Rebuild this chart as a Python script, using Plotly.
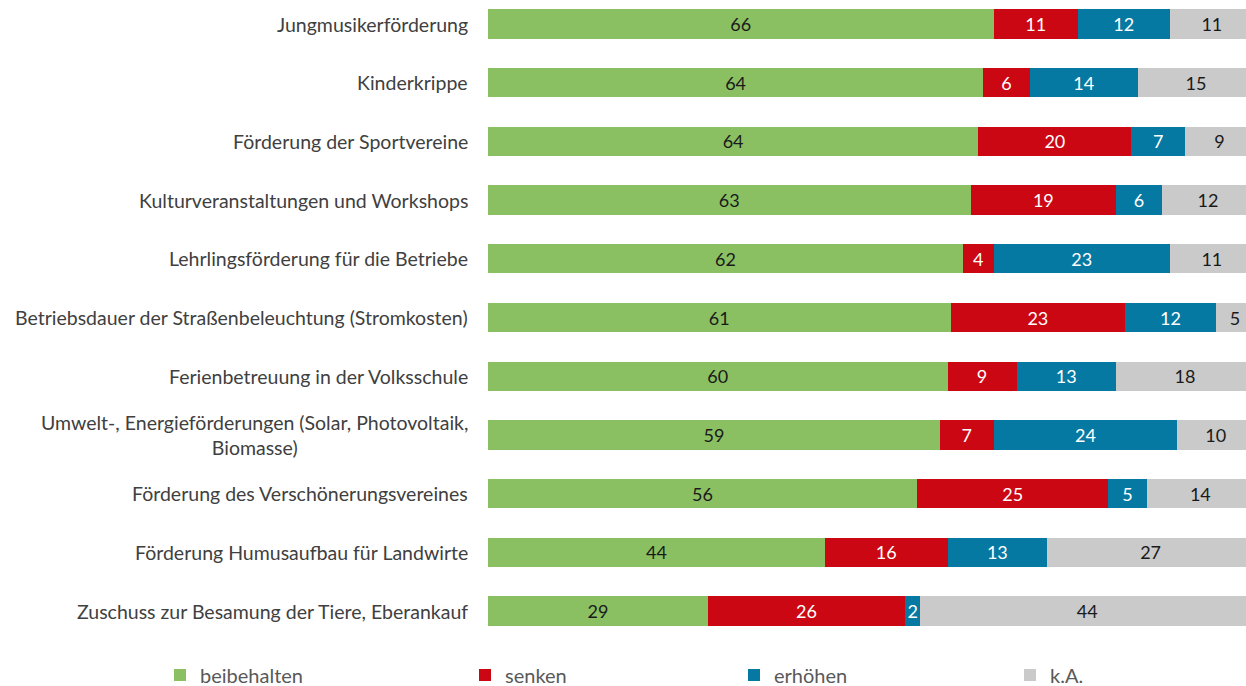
import plotly.graph_objects as go

categories = [
    "Jungmusikerförderung",
    "Kinderkrippe",
    "Förderung der Sportvereine",
    "Kulturveranstaltungen und Workshops",
    "Lehrlingsförderung für die Betriebe",
    "Betriebsdauer der Straßenbeleuchtung (Stromkosten)",
    "Ferienbetreuung in der Volksschule",
    "Umwelt-, Energieförderungen (Solar, Photovoltaik,<br>Biomasse)",
    "Förderung des Verschönerungsvereines",
    "Förderung Humusaufbau für Landwirte",
    "Zuschuss zur Besamung der Tiere, Eberankauf",
]
beibehalten = [66, 64, 64, 63, 62, 61, 60, 59, 56, 44, 29]
senken = [11, 6, 20, 19, 4, 23, 9, 7, 25, 16, 26]
erhoehen = [12, 14, 7, 6, 23, 12, 13, 24, 5, 13, 2]
ka = [11, 15, 9, 12, 11, 5, 18, 10, 14, 27, 44]

series = [
    ("beibehalten", beibehalten, "#8BC062", "#1a1a1a"),
    ("senken", senken, "#CC0714", "#ffffff"),
    ("erhöhen", erhoehen, "#0679A2", "#ffffff"),
    ("k.A.", ka, "#CACACA", "#1a1a1a"),
]
legend_ids = ["legend", "legend2", "legend3", "legend4"]
legend_x_px = [160, 465, 734, 1010]

W, H = 1246, 686
FONT = "Lato"
fig = go.Figure()
for (name, vals, color, tcol), lid in zip(series, legend_ids):
    fig.add_trace(go.Bar(
        y=categories, x=vals, name=name, orientation="h",
        marker=dict(color=color, line=dict(width=0)),
        width=0.5,
        text=[str(v) for v in vals], textposition="inside",
        insidetextanchor="middle", constraintext="none",
        textfont=dict(family=FONT, size=18, color=tcol),
        hoverinfo="skip", legend=lid,
    ))

for c in categories:
    fig.add_annotation(
        x=0, xref="paper", y=c, yref="y", xanchor="right", xshift=-18,
        text=c, showarrow=False, align="center",
        font=dict(family=FONT, size=19.5, color="#404040"),
    )

legend_common = dict(orientation="h", xref="container", yref="container",
                     xanchor="left", yanchor="middle", y=1 - 675 / H,
                     itemwidth=30, bgcolor="rgba(0,0,0,0)",
                     font=dict(family=FONT, size=20, color="#595959"))
legends = {}
for lid, xp in zip(legend_ids, legend_x_px):
    legends[lid] = dict(x=xp / W, **legend_common)

fig.update_layout(
    barmode="stack", barnorm="percent",
    width=W, height=H,
    margin=dict(l=488, r=0, t=0, b=46, autoexpand=False),
    plot_bgcolor="white", paper_bgcolor="white",
    uniformtext=dict(minsize=18, mode="show"),
    xaxis=dict(range=[0, 98.96], showgrid=False, zeroline=False,
               showticklabels=False, showline=False, fixedrange=True),
    yaxis=dict(type="category", range=[10.494, -0.409], showgrid=False,
               showticklabels=False, showline=False, zeroline=False,
               fixedrange=True),
    showlegend=True,
    **legends,
)

fig.write_html("out.html", config={"displayModeBar": False},
               post_script="document.body.style.margin='0';document.body.style.overflow='hidden';")
